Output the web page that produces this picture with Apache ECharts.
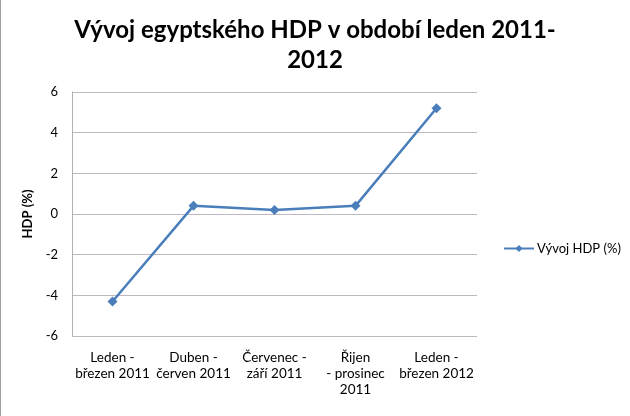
<!DOCTYPE html>
<html>
<head>
<meta charset="utf-8">
<script src="https://cdn.jsdelivr.net/npm/echarts@6/dist/echarts.min.js"></script>
<style>html,body{margin:0;padding:0;background:#fff}#c{width:630px;height:416px}</style>
</head>
<body>
<div id="c"></div>
<script>
const titleText = "Vývoj egyptského HDP v období leden 2011-\n2012";
const categories = ["Leden -\nbřezen 2011", "Duben -\nčerven 2011", "Červenec -\nzáří 2011", "Řijen\n- prosinec\n2011", "Leden -\nbřezen 2012"];
const seriesName = "Vývoj HDP (%)";
const values = [-4.3, 0.4, 0.2, 0.4, 5.2];
const yAxisName = "HDP (%)";
const yMin = -6, yMax = 6, yStep = 2;

const FONT = "Lato, 'Liberation Sans', sans-serif";
const chart = echarts.init(document.getElementById('c'), null, {renderer: 'canvas'});
chart.setOption({
  animation: false,
  backgroundColor: '#fff',
  title: {
    text: titleText,
    left: 'center',
    top: 10,
    textStyle: {fontFamily: FONT, fontSize: 24, fontWeight: 'bold', color: '#000', lineHeight: 30}
  },
  graphic: [{type: 'rect', shape: {x: 0, y: 0, width: 1, height: 416}, style: {fill: '#a0a0a0'}}],
  legend: {
    data: [seriesName],
    left: 498, top: 237,
    itemWidth: 30, itemHeight: 9, itemGap: 4,
    textStyle: {fontFamily: FONT, fontSize: 13, color: '#000', padding: [0,0,0,-2]}
  },
  grid: {left: 72, top: 92, right: 153, bottom: 80},
  xAxis: {
    type: 'category',
    data: categories,
    boundaryGap: true,
    axisLine: {show: false},
    axisTick: {show: false},
    axisLabel: {fontFamily: FONT, fontSize: 13.5, color: '#000', lineHeight: 16, margin: 14, interval: 0}
  },
  yAxis: {
    type: 'value',
    min: yMin, max: yMax, interval: yStep,
    name: yAxisName,
    nameLocation: 'middle',
    nameGap: 37,
    nameTextStyle: {fontFamily: FONT, fontSize: 13, fontWeight: 'bold', color: '#000'},
    axisLine: {show: true, lineStyle: {color: '#b0b0b0', width: 1}},
    axisTick: {show: false},
    axisLabel: {fontFamily: FONT, fontSize: 13, color: '#000', margin: 14},
    splitLine: {show: true, lineStyle: {color: '#bdb8c2', width: 1}}
  },
  series: [{
    name: seriesName,
    type: 'line',
    data: values,
    symbol: 'diamond',
    symbolSize: 10,
    lineStyle: {color: '#4a7ebb', width: 2.5},
    itemStyle: {color: '#4a7ebb'}
  }]
});
</script>
</body>
</html>
